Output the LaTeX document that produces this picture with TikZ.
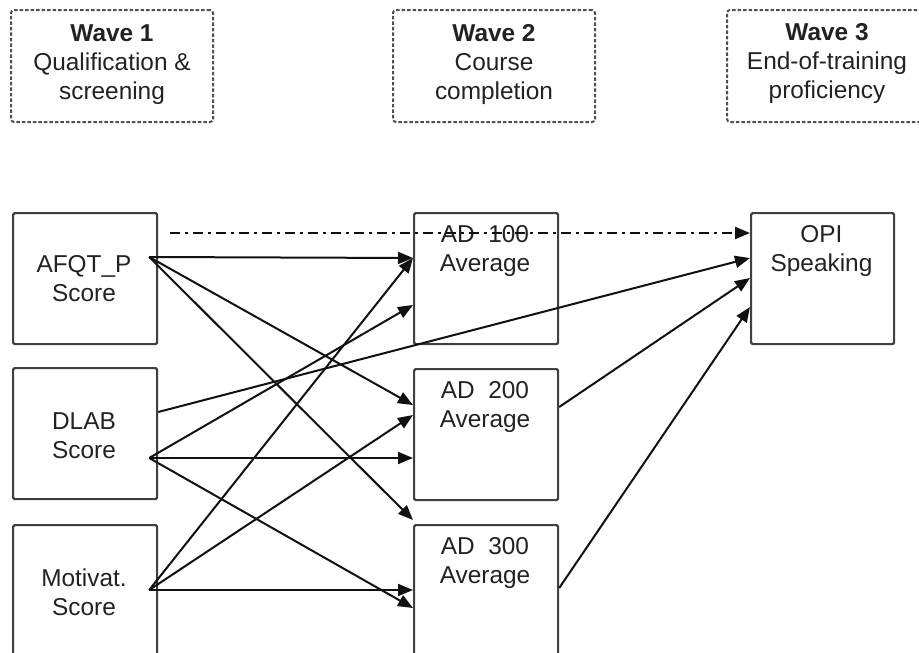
\documentclass[tikz,border=0pt]{standalone}
\usepackage{fontspec}
\setmainfont{Liberation Sans}
\usetikzlibrary{arrows.meta,calc}

\definecolor{boxline}{HTML}{404040}
\definecolor{waveline}{HTML}{505050}
\definecolor{txt}{HTML}{222222}
\definecolor{arrowcol}{HTML}{111111}

\tikzset{
  varbox/.style={draw=boxline, line width=2.2pt, rounded corners=1.5pt,
    minimum width=144pt, minimum height=131pt, inner sep=0pt, anchor=north west},
  wavebox/.style={draw=waveline, line width=2pt, dash pattern=on 3.5pt off 2pt,
    rounded corners=3pt, minimum width=202pt, minimum height=112pt,
    inner sep=0pt, anchor=north west},
  lbl/.style={text=txt, align=center, inner sep=0pt,
    font=\fontsize{24.4}{29}\selectfont},
  path/.style={draw=arrowcol, line width=2pt,
    -{Triangle[length=15pt,width=12pt]}},
  fixed/.style={draw=arrowcol, line width=2pt,
    dash pattern=on 10pt off 5pt on 3pt off 5pt,
    -{Triangle[length=15pt,width=12pt]}}
}

\begin{document}
\begin{tikzpicture}[x=1pt, y=-1pt]
\useasboundingbox (0,0) rectangle (919,653);

% wave headers
\node[wavebox] (w1) at (10,9) {};
\node[wavebox] (w2) at (392,9) {};
\node[wavebox, minimum width=215pt] (w3) at (726,9) {};
\node[lbl] (w1t) at (w1.center) [yshift=1.5pt] {\textbf{Wave 1}\\Qualification \&\\screening};
\node[lbl] (w2t) at (w2.center) [yshift=1.5pt] {\textbf{Wave 2}\\Course\\completion};
\node[lbl] (w3t) at (827,63.5) {\textbf{Wave 3}\\End-of-training\\proficiency};

% predictors
\node[varbox] (afqt) at (12,212) {};
\node[varbox] (dlab) at (12,367) {};
\node[varbox] (mot)  at (12,524) {};
\node[lbl] (afqtt) at (84,278.5) {AFQT\_P\\Score};
\node[lbl] (dlabt) at (84,436) {DLAB\\Score};
\node[lbl] (mott)  at (84,592.5) {Motivat.\\Score};

% course averages
\node[varbox] (ad1) at (413,212) {};
\node[varbox] (ad2) at (413,368) {};
\node[varbox] (ad3) at (413,524) {};
\node[lbl] (ad1t) at (485,251.5) {AD\ \ 100\\Average};
\node[lbl] (ad2t) at (485,407) {AD\ \ 200\\Average};
\node[lbl] (ad3t) at (485,563) {AD\ \ 300\\Average};

% outcome
\node[varbox, minimum width=143pt] (opi) at (750,212) {};
\node[lbl] (opit) at (821.5,251.5) {OPI\\Speaking};

% ports
\coordinate (afqt-o) at ($(afqt.north east)+(-9,45)$);
\coordinate (dash-o) at ($(afqt.north east)+(12,21)$);
\coordinate (dlab-o) at ($(dlab.north east)+(-9,91)$);
\coordinate (dlab-r) at ($(dlab.north east)+(0,45)$);
\coordinate (mot-o)  at ($(mot.north east)+(-9,66)$);

\coordinate (ad1-a) at ($(ad1.north west)+(0,46)$);
\coordinate (ad1-b) at ($(ad1.north west)+(0,93)$);
\coordinate (ad2-a) at ($(ad2.north west)+(0,37)$);
\coordinate (ad2-b) at ($(ad2.north west)+(0,47)$);
\coordinate (ad2-c) at ($(ad2.north west)+(0,90)$);
\coordinate (ad3-a) at ($(ad3.north west)+(0,-4)$);
\coordinate (ad3-b) at ($(ad3.north west)+(0,66)$);
\coordinate (ad3-c) at ($(ad3.north west)+(0,84)$);
\coordinate (ad2-o) at ($(ad2.north east)+(0,39)$);
\coordinate (ad3-o) at ($(ad3.north east)+(0,64)$);

\coordinate (opi-a) at ($(opi.north west)+(0,21)$);
\coordinate (opi-b) at ($(opi.north west)+(0,46)$);
\coordinate (opi-c) at ($(opi.north west)+(0,66)$);
\coordinate (opi-d) at ($(opi.north west)+(0,95)$);

% paths from AFQT_P
\draw[path] (afqt-o) -- (ad1-a);
\draw[path] (afqt-o) -- (ad2-a);
\draw[path] (afqt-o) -- (ad3-a);
\draw[fixed] (dash-o) -- (opi-a);

% paths from DLAB
\draw[path] (dlab-o) -- (ad1-b);
\draw[path] (dlab-o) -- (ad2-c);
\draw[path] (dlab-o) -- (ad3-c);
\draw[path] (dlab-r) -- (opi-b);

% paths from motivation
\draw[path] (mot-o) -- (ad1-a);
\draw[path] (mot-o) -- (ad2-b);
\draw[path] (mot-o) -- (ad3-b);

% course averages to OPI
\draw[path] (ad2-o) -- (opi-c);
\draw[path] (ad3-o) -- (opi-d);
\end{tikzpicture}
\end{document}
